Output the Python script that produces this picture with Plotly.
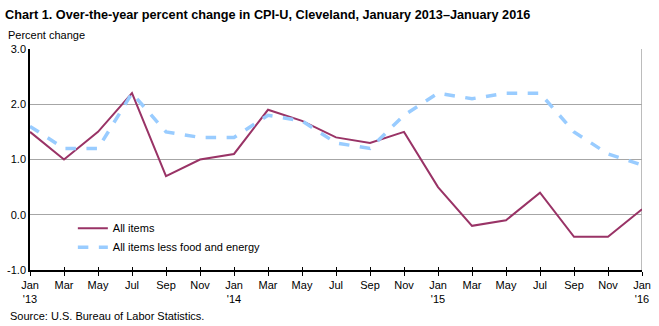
import plotly.graph_objects as go

months = ["Jan<br>'13", "Mar", "May", "Jul", "Sep", "Nov", "Jan<br>'14", "Mar", "May", "Jul", "Sep", "Nov",
          "Jan<br>'15", "Mar", "May", "Jul", "Sep", "Nov", "Jan<br>'16"]
all_items = [1.5, 1.0, 1.5, 2.2, 0.7, 1.0, 1.1, 1.9, 1.7, 1.4, 1.3, 1.5, 0.5, -0.2, -0.1, 0.4, -0.4, -0.4, 0.1]
core = [1.6, 1.2, 1.2, 2.2, 1.5, 1.4, 1.4, 1.8, 1.7, 1.3, 1.2, 1.8, 2.2, 2.1, 2.2, 2.2, 1.5, 1.1, 0.9]
y_ticks = [-1.0, 0.0, 1.0, 2.0, 3.0]

x = list(range(len(months)))
font = "Liberation Sans, Arial, sans-serif"

fig = go.Figure()
fig.add_trace(go.Scatter(x=x, y=all_items, mode="lines", name="All items",
                         line=dict(color="#993366", width=2)))
fig.add_trace(go.Scatter(x=x, y=core, mode="lines", name="All items less food and energy",
                         line=dict(color="#99CCFF", width=3.5, dash="dash")))

fig.add_shape(type="line", xref="x", yref="y", x0=x[-1], x1=x[-1], y0=y_ticks[0], y1=y_ticks[-1],
              line=dict(color="#a6a6a6", width=1.5), layer="below")

fig.update_layout(
    width=659, height=326,
    margin=dict(l=30, r=17, t=49, b=56),
    paper_bgcolor="white", plot_bgcolor="white",
    font=dict(family=font, size=11, color="black"),
    showlegend=True,
    legend=dict(x=0.07, y=0.255, xanchor="left", yanchor="top", bgcolor="rgba(0,0,0,0)",
                font=dict(size=11), itemwidth=30, tracegroupgap=0),
    xaxis=dict(range=[0, x[-1]], tickvals=x, ticktext=months, showgrid=False, automargin=False,
               showline=True, linecolor="black", linewidth=1.5, ticks="outside",
               ticklen=4, tickcolor="black", zeroline=False, tickangle=0),
    xaxis2=dict(range=[0, x[-1]], tickvals=x, overlaying="x", anchor="y", side="bottom",
                showticklabels=False, showgrid=False, showline=False, ticks="inside",
                ticklen=3, tickcolor="black", zeroline=False),
    yaxis=dict(range=[y_ticks[0], y_ticks[-1]], tickvals=y_ticks, automargin=False,
               ticktext=[f"{v:.1f}" for v in y_ticks], showgrid=True, gridcolor="#a6a6a6",
               gridwidth=1.2, showline=True, linecolor="black", linewidth=1.5,
               zeroline=False, ticks="", ticklen=0),
    annotations=[
        dict(text="<b>Chart 1. Over-the-year percent change in CPI-U, Cleveland, January 2013–January 2016</b>",
             xref="paper", yref="paper", x=-27/612, y=1 + 34/221, xanchor="left", yanchor="middle",
             showarrow=False, font=dict(size=12.7, family=font)),
        dict(text="Percent change", xref="paper", yref="paper", x=-24/612, y=1 + 14/221,
             xanchor="left", yanchor="middle", showarrow=False, font=dict(size=11, family=font)),
        dict(text="Source: U.S. Bureau of Labor Statistics.", xref="paper", yref="paper",
             x=-22/612, y=-46/221, xanchor="left", yanchor="middle", showarrow=False,
             font=dict(size=11, family=font)),
    ],
)
# invisible trace to activate the overlay axis carrying the crossing tick marks
fig.add_trace(go.Scatter(x=[x[0]], y=[None], xaxis="x2", yaxis="y", showlegend=False,
                         hoverinfo="skip", mode="lines"))

fig.write_html("out.html")
